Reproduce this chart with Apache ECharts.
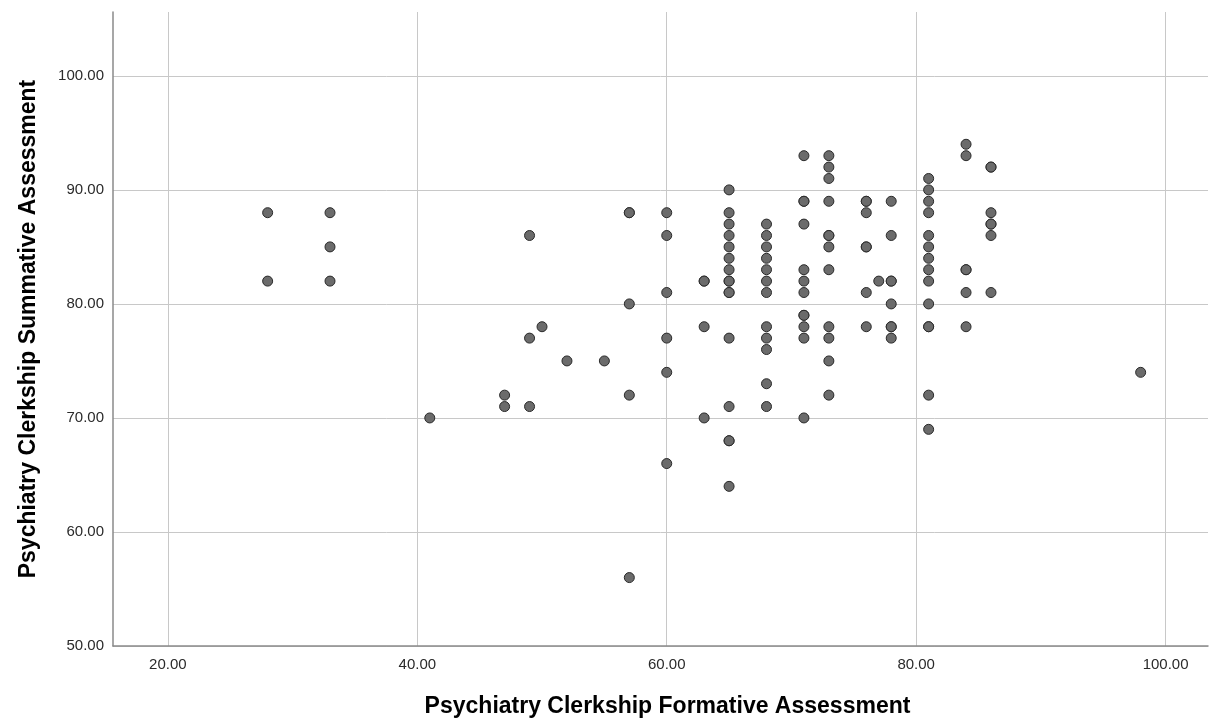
<!DOCTYPE html>
<html>
<head>
<meta charset="utf-8">
<script src="https://cdn.jsdelivr.net/npm/echarts@6/dist/echarts.min.js"></script>
<style>html,body{margin:0;padding:0;background:#fff}#c{width:1210px;height:721px}</style>
</head>
<body>
<div id="c"></div>
<script>
// Formative score (x) and list of summative scores (y) observed at that x
const formativeScores = [28, 33, 41, 47, 49, 50, 52, 55, 57, 60, 63, 65, 68, 71, 73, 76, 77, 78, 81, 84, 86, 98];
const summativeByFormative = [
  [88, 82],
  [88, 85, 82],
  [70],
  [72, 71],
  [86, 77, 71],
  [78],
  [75],
  [75],
  [88, 88, 80, 72, 56],
  [88, 86, 81, 77, 74, 66],
  [82, 82, 78, 70],
  [90, 88, 87, 86, 85, 84, 83, 82, 82, 81, 81, 77, 71, 68, 68, 64],
  [87, 86, 85, 84, 83, 82, 81, 78, 77, 76, 73, 71],
  [93, 89, 89, 87, 83, 82, 81, 79, 79, 78, 77, 70],
  [93, 92, 91, 89, 86, 86, 85, 83, 78, 77, 75, 72],
  [89, 89, 88, 85, 85, 81, 78],
  [82],
  [89, 86, 82, 82, 80, 78, 78, 77],
  [91, 90, 89, 88, 86, 85, 84, 83, 82, 80, 78, 78, 72, 69],
  [94, 93, 83, 83, 81, 78],
  [92, 92, 88, 87, 87, 86, 81],
  [74]
];
const xTicks = [20, 40, 60, 80, 100];
const yTicks = [50, 60, 70, 80, 90, 100];
const xTitle = 'Psychiatry Clerkship Formative Assessment';
const yTitle = 'Psychiatry Clerkship Summative Assessment';

const points = [];
formativeScores.forEach((x, i) => summativeByFormative[i].forEach(y => points.push([x, y])));

const chart = echarts.init(document.getElementById('c'), null, {renderer: 'canvas'});
const fmt = v => Number(v).toFixed(2);
chart.setOption({
  animation: false,
  backgroundColor: '#ffffff',
  grid: {left: 113, right: 2, top: 12, bottom: 75, containLabel: false, outerBoundsMode: 'none'},
  xAxis: {
    type: 'value', min: 15.6, max: 103.4,
    name: xTitle, nameLocation: 'middle', nameGap: 49,
    nameTextStyle: {fontFamily: 'Liberation Sans', fontSize: 23, fontWeight: 'bold', color: '#000', padding: [0, 0, 0, 14]},
    axisLine: {show: true, onZero: false, lineStyle: {color: '#8a8a8a', width: 1.5}},
    axisTick: {show: false, customValues: xTicks},
    axisLabel: {customValues: xTicks, formatter: fmt, fontFamily: 'Liberation Sans', fontSize: 15, color: '#2a2a2a', margin: 11},
    splitLine: {show: true, lineStyle: {color: '#c8c8c8', width: 1}}
  },
  yAxis: {
    type: 'value', min: 50, max: 105.6,
    name: yTitle, nameLocation: 'middle', nameGap: 73,
    nameTextStyle: {fontFamily: 'Liberation Sans', fontSize: 23, fontWeight: 'bold', color: '#000'},
    axisLine: {show: true, onZero: false, lineStyle: {color: '#8a8a8a', width: 1.5}},
    axisTick: {show: false, customValues: yTicks},
    axisLabel: {customValues: yTicks, formatter: fmt, fontFamily: 'Liberation Sans', fontSize: 15, color: '#2a2a2a', margin: 9},
    splitLine: {show: true, lineStyle: {color: '#c8c8c8', width: 1}}
  },
  series: [{
    type: 'scatter',
    data: points,
    symbol: 'circle',
    symbolSize: 10,
    itemStyle: {color: '#6b6b6b', borderColor: '#2a2a2a', borderWidth: 1, opacity: 1}
  }]
});
</script>
</body>
</html>
